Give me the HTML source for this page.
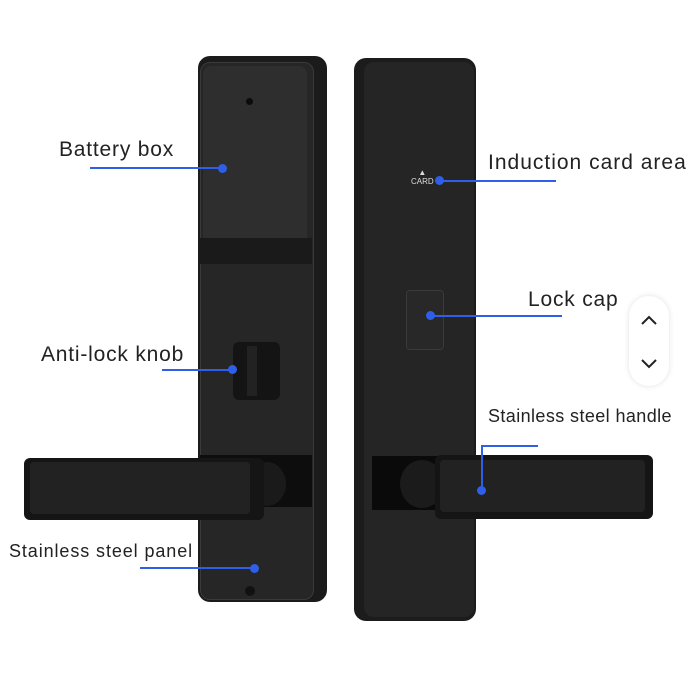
<!DOCTYPE html>
<html><head><style>
body{margin:0;width:690px;height:685px;background:#fff;position:relative;overflow:hidden;font-family:"Liberation Sans",sans-serif;}
.a{position:absolute;}
.t{position:absolute;color:#222;font-size:21px;white-space:nowrap;letter-spacing:0.8px;}
.l{position:absolute;height:2px;background:#2f5fe8;}
.d{position:absolute;width:9px;height:9px;border-radius:50%;background:#2f5fe8;}
</style></head><body>
<!-- left lock -->
<div class="a" style="left:198px;top:56px;width:129px;height:546px;background:#1b1b1b;border-radius:12px;"></div>
<div class="a" style="left:200px;top:62px;width:112px;height:536px;background:#262626;border-radius:10px;border:1px solid #3a3a3a;"></div>
<div class="a" style="left:203px;top:66px;width:104px;height:175px;background:#2e2e2e;border-radius:8px 8px 0 0;"></div>
<div class="a" style="left:200px;top:238px;width:112px;height:26px;background:#1a1a1a;"></div>
<div class="a" style="left:246px;top:98px;width:7px;height:7px;border-radius:50%;background:#0c0c0c;"></div>
<div class="a" style="left:233px;top:342px;width:47px;height:58px;background:#141414;border-radius:6px;"></div>
<div class="a" style="left:247px;top:346px;width:10px;height:50px;background:#222;"></div>
<div class="a" style="left:200px;top:455px;width:112px;height:52px;background:#0d0d0d;"></div>
<div class="a" style="left:248px;top:462px;width:38px;height:44px;background:#1a1a1a;border-radius:50%;"></div>
<div class="a" style="left:24px;top:458px;width:240px;height:62px;background:#151515;border-radius:6px;"></div>
<div class="a" style="left:30px;top:462px;width:220px;height:52px;background:#222;border-radius:4px;"></div>
<div class="a" style="left:245px;top:586px;width:10px;height:10px;border-radius:50%;background:#111;"></div>
<!-- right lock -->
<div class="a" style="left:354px;top:58px;width:122px;height:563px;background:#1c1c1c;border-radius:12px;"></div>
<div class="a" style="left:364px;top:62px;width:110px;height:555px;background:#252525;border-radius:10px;"></div>
<div class="a" style="left:406px;top:290px;width:36px;height:58px;background:#282828;border:1px solid #3a3a3a;border-radius:4px;"></div>
<div class="a" style="left:411px;top:168px;color:#ddd;font-size:8px;line-height:9px;text-align:center;">&#9650;<br>CARD</div>
<div class="a" style="left:372px;top:456px;width:104px;height:54px;background:#0a0a0a;"></div>
<div class="a" style="left:400px;top:460px;width:44px;height:48px;background:#1b1b1b;border-radius:50%;"></div>
<div class="a" style="left:435px;top:455px;width:218px;height:64px;background:#151515;border-radius:6px;"></div>
<div class="a" style="left:440px;top:460px;width:205px;height:52px;background:#222;border-radius:4px;"></div>
<!-- labels -->
<div class="t" style="left:59px;top:138px;">Battery box</div>
<div class="l" style="left:90px;top:167px;width:132px;"></div><div class="d" style="left:218px;top:164px;"></div>
<div class="t" style="left:41px;top:343px;">Anti-lock knob</div>
<div class="l" style="left:162px;top:369px;width:70px;"></div><div class="d" style="left:228px;top:365px;"></div>
<div class="t" style="left:9px;top:541px;font-size:18px;letter-spacing:0.9px;">Stainless steel panel</div>
<div class="l" style="left:140px;top:567px;width:115px;"></div><div class="d" style="left:250px;top:564px;"></div>
<div class="t" style="left:488px;top:151px;letter-spacing:1px;">Induction card area</div>
<div class="l" style="left:440px;top:180px;width:116px;"></div><div class="d" style="left:435px;top:176px;"></div>
<div class="t" style="left:528px;top:288px;">Lock cap</div>
<div class="l" style="left:430px;top:315px;width:132px;"></div><div class="d" style="left:426px;top:311px;"></div>
<div class="t" style="left:488px;top:406px;font-size:18px;letter-spacing:0.4px;">Stainless steel handle</div>
<div class="l" style="left:481px;top:445px;width:57px;"></div>
<div class="a" style="left:481px;top:445px;width:2px;height:45px;background:#2f5fe8;"></div><div class="d" style="left:477px;top:486px;"></div>
<!-- scroll widget -->
<div class="a" style="left:629px;top:296px;width:40px;height:90px;background:#fff;border-radius:20px;box-shadow:0 0 6px rgba(0,0,0,0.12);"></div>
<svg class="a" style="left:629px;top:296px;" width="40" height="90"><path d="M13 28l7-7 7 7M13 64l7 7 7-7" fill="none" stroke="#222" stroke-width="2"/></svg>
</body></html>
